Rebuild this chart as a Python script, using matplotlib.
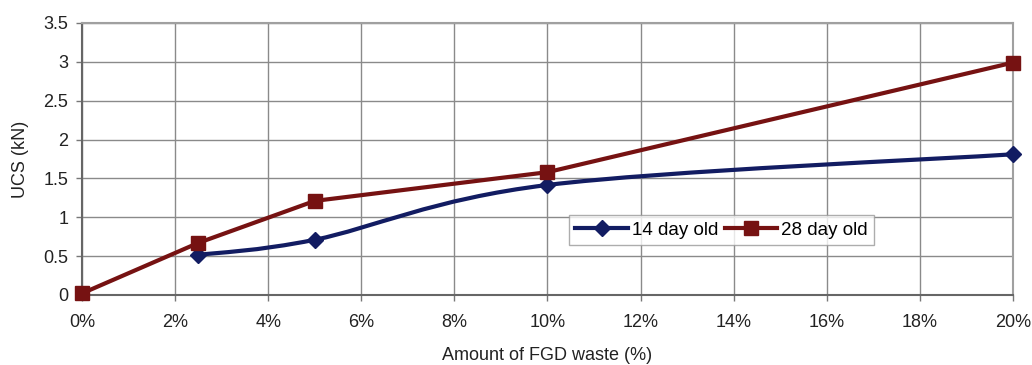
import matplotlib
matplotlib.use("Agg")
import matplotlib.pyplot as plt
import numpy as np
from matplotlib.path import Path
from matplotlib.patches import PathPatch
from matplotlib.lines import Line2D

plt.rcParams["font.family"] = ["Liberation Sans", "DejaVu Sans"]

# FGD waste amount (%) and UCS readings (kN)
waste_14 = [2.5, 5, 10, 20]
ucs_14 = [0.515, 0.71, 1.415, 1.81]
waste_28 = [0, 2.5, 5, 10, 20]
ucs_28 = [0.02, 0.67, 1.21, 1.58, 2.99]
x_ticks = [0, 2, 4, 6, 8, 10, 12, 14, 16, 18, 20]
y_ticks = [0, 0.5, 1, 1.5, 2, 2.5, 3, 3.5]

navy = "#121c62"
maroon = "#761212"


def smooth_path(xs, ys):
    # Catmull-Rom style bezier through the points (like a spreadsheet "smoothed line")
    pts = np.column_stack([xs, ys]).astype(float)
    ext = np.vstack([pts[0], pts, pts[-1]])
    verts = [pts[0]]
    codes = [Path.MOVETO]
    for i in range(1, len(ext) - 2):
        p0, p1, p2, p3 = ext[i - 1], ext[i], ext[i + 1], ext[i + 2]
        c1 = p1 + (p2 - p0) / 6
        c2 = p2 - (p3 - p1) / 6
        verts += [c1, c2, p2]
        codes += [Path.CURVE4] * 3
    return Path(verts, codes)


fig = plt.figure(figsize=(10.32, 3.65), dpi=100)
ax = fig.add_axes([0.0795, 0.192, 0.902, 0.745])

ax.add_patch(PathPatch(smooth_path(waste_14, ucs_14), fill=False,
                       edgecolor=navy, lw=3.0, zorder=3, capstyle="round"))
ax.plot(waste_14, ucs_14, linestyle="none", marker="D", ms=8,
        color=navy, zorder=4, clip_on=False)
ax.plot(waste_28, ucs_28, linestyle="-", lw=3.0, marker="s", ms=10,
        color=maroon, zorder=5, clip_on=False)

ax.set_xlim(0, 20)
ax.set_ylim(0, 3.5)
ax.set_xticks(x_ticks)
ax.set_xticklabels([f"{t}%" for t in x_ticks])
ax.set_yticks(y_ticks)
ax.set_yticklabels([f"{t:g}" for t in y_ticks])
ax.grid(True, color="#8a8a8a", lw=1.0)
ax.set_axisbelow(True)
ax.tick_params(labelsize=13, colors="#222222", length=4, width=1,
               color="#777777")
ax.tick_params(axis="x", pad=10)
ax.tick_params(axis="y", pad=6)
for side in ["top", "right"]:
    ax.spines[side].set_color("#a0a0a0")
    ax.spines[side].set_linewidth(1.5)
for side in ["left", "bottom"]:
    ax.spines[side].set_color("#666666")
    ax.spines[side].set_linewidth(1.5)

ax.set_xlabel("Amount of FGD waste (%)", fontsize=13, color="#222222", labelpad=11)
ax.set_ylabel("UCS (kN)", fontsize=13, color="#222222", labelpad=10)

handles = [
    Line2D([], [], color=navy, lw=3.0, marker="D", ms=8),
    Line2D([], [], color=maroon, lw=3.0, marker="s", ms=10),
]
leg = ax.legend(handles, ["14 day old", "28 day old"], loc="upper left",
                bbox_to_anchor=(0.523, 0.294), ncol=2, fontsize=13.5,
                frameon=True, fancybox=False, borderaxespad=0,
                handlelength=2.8, handletextpad=0.2, columnspacing=0.35,
                borderpad=0.35)
leg.get_frame().set_edgecolor("#999999")
leg.get_frame().set_linewidth(1.0)

fig.savefig("out.png", dpi=100)
